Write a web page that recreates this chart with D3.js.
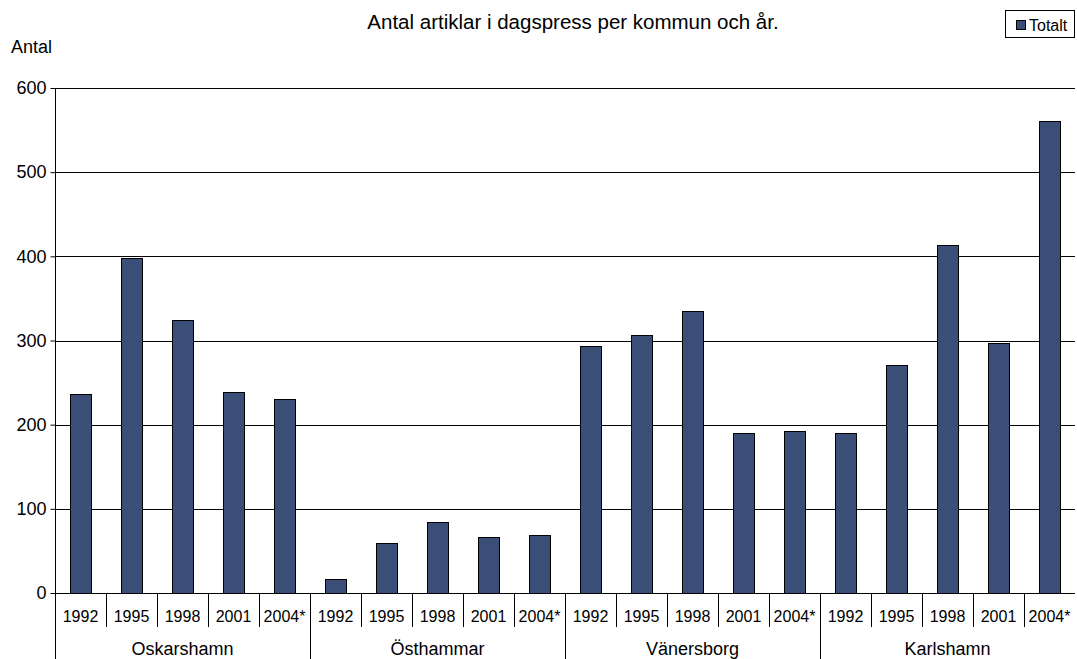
<!DOCTYPE html>
<html>
<head>
<meta charset="utf-8">
<script src="https://cdn.jsdelivr.net/npm/d3@7"></script>
<style>
  body { margin: 0; background: #fff; }
  text { font-family: "Liberation Sans", Arial, sans-serif; fill: #000; }
</style>
</head>
<body>
<div id="vis"></div>
<script>
const FRAME_WIDTH = 1077;
const FRAME_HEIGHT = 659;
const MARGINS = {left: 55, right: 2, top: 88, bottom: 66};

const kommuner = ["Oskarshamn", "Östhammar", "Vänersborg", "Karlshamn"];
const years = ["1992", "1995", "1998", "2001", "2004*"];
const totalt = [
  [237, 398, 324, 239, 230],
  [17, 60, 84, 66, 69],
  [294, 307, 335, 190, 192],
  [190, 271, 413, 297, 561]
];
const yTicks = [0, 100, 200, 300, 400, 500, 600];

const VIS_WIDTH = FRAME_WIDTH - MARGINS.left - MARGINS.right;
const VIS_HEIGHT = FRAME_HEIGHT - MARGINS.top - MARGINS.bottom;

const data = [];
kommuner.forEach((k, i) => {
  years.forEach((y, j) => {
    data.push({kommun: k, year: y, key: k + "|" + y, value: totalt[i][j]});
  });
});

const FRAME = d3.select("#vis")
  .append("svg")
    .attr("width", FRAME_WIDTH)
    .attr("height", FRAME_HEIGHT);

// scales
const X_SCALE = d3.scaleBand()
  .domain(data.map(d => d.key))
  .range([MARGINS.left, MARGINS.left + VIS_WIDTH]);
const BAR_SCALE = d3.scaleBand()
  .domain(data.map(d => d.key))
  .range([MARGINS.left, MARGINS.left + VIS_WIDTH])
  .paddingInner(0.59)
  .paddingOuter(0.295);
const GROUP_SCALE = d3.scaleBand()
  .domain(kommuner)
  .range([MARGINS.left, MARGINS.left + VIS_WIDTH]);
const Y_SCALE = d3.scaleLinear()
  .domain([0, 600])
  .range([MARGINS.top + VIS_HEIGHT, MARGINS.top]);

const zeroY = Y_SCALE(0);

// gridlines
FRAME.append("g")
  .selectAll("line")
  .data(yTicks)
  .enter()
  .append("line")
    .attr("x1", MARGINS.left)
    .attr("x2", MARGINS.left + VIS_WIDTH)
    .attr("y1", d => Math.round(Y_SCALE(d)) + 0.5)
    .attr("y2", d => Math.round(Y_SCALE(d)) + 0.5)
    .attr("stroke", "#000")
    .attr("stroke-width", 1);

// bars
FRAME.append("g")
  .selectAll("rect")
  .data(data)
  .enter()
  .append("rect")
    .attr("x", d => Math.round(BAR_SCALE(d.key)) + 0.5)
    .attr("y", d => Math.round(Y_SCALE(d.value)) + 0.5)
    .attr("width", Math.round(BAR_SCALE.bandwidth()))
    .attr("height", d => Math.round(zeroY) - Math.round(Y_SCALE(d.value)))
    .attr("fill", "#3b4e78")
    .attr("stroke", "#000")
    .attr("stroke-width", 1);

// y axis
FRAME.append("g")
  .attr("transform", "translate(" + (MARGINS.left + 0.5) + ",0)")
  .call(d3.axisLeft(Y_SCALE).tickValues(yTicks).tickSize(5).tickPadding(4))
  .call(g => g.select(".domain").remove())
  .call(g => g.selectAll("text").attr("font-size", "18px")
    .attr("font-family", "'Liberation Sans', Arial, sans-serif"));

FRAME.append("line")
  .attr("x1", MARGINS.left + 0.5)
  .attr("x2", MARGINS.left + 0.5)
  .attr("y1", MARGINS.top)
  .attr("y2", FRAME_HEIGHT)
  .attr("stroke", "#000");

// year tick separators
const innerSep = data.slice(1).map(d => d.key);
FRAME.append("g")
  .selectAll("line")
  .data(innerSep)
  .enter()
  .append("line")
    .attr("x1", d => Math.round(X_SCALE(d)) + 0.5)
    .attr("x2", d => Math.round(X_SCALE(d)) + 0.5)
    .attr("y1", zeroY)
    .attr("y2", d => d.endsWith("|1992") ? FRAME_HEIGHT : zeroY + 34)
    .attr("stroke", "#000");

// year labels
FRAME.append("g")
  .selectAll("text")
  .data(data)
  .enter()
  .append("text")
    .attr("x", d => X_SCALE(d.key) + X_SCALE.bandwidth() / 2)
    .attr("y", zeroY + 29)
    .attr("text-anchor", "middle")
    .attr("font-size", "16px")
    .text(d => d.year);

// kommun labels
FRAME.append("g")
  .selectAll("text")
  .data(kommuner)
  .enter()
  .append("text")
    .attr("x", d => GROUP_SCALE(d) + GROUP_SCALE.bandwidth() / 2)
    .attr("y", zeroY + 62)
    .attr("text-anchor", "middle")
    .attr("font-size", "18px")
    .text(d => d);

// title and y label
FRAME.append("text")
  .attr("x", 573)
  .attr("y", 29)
  .attr("text-anchor", "middle")
  .attr("font-size", "20.5px")
  .text("Antal artiklar i dagspress per kommun och år.");

FRAME.append("text")
  .attr("x", 11)
  .attr("y", 53)
  .attr("font-size", "18px")
  .text("Antal");

// legend
const legend = FRAME.append("g").attr("transform", "translate(1005,10)");
legend.append("rect")
  .attr("x", 0.5).attr("y", 0.5)
  .attr("width", 69).attr("height", 27)
  .attr("fill", "#fff").attr("stroke", "#000");
legend.append("rect")
  .attr("x", 11.5).attr("y", 10.5)
  .attr("width", 9).attr("height", 9)
  .attr("fill", "#3b4e78").attr("stroke", "#000");
legend.append("text")
  .attr("x", 24).attr("y", 21)
  .attr("font-size", "16px")
  .text("Totalt");
</script>
</body>
</html>
